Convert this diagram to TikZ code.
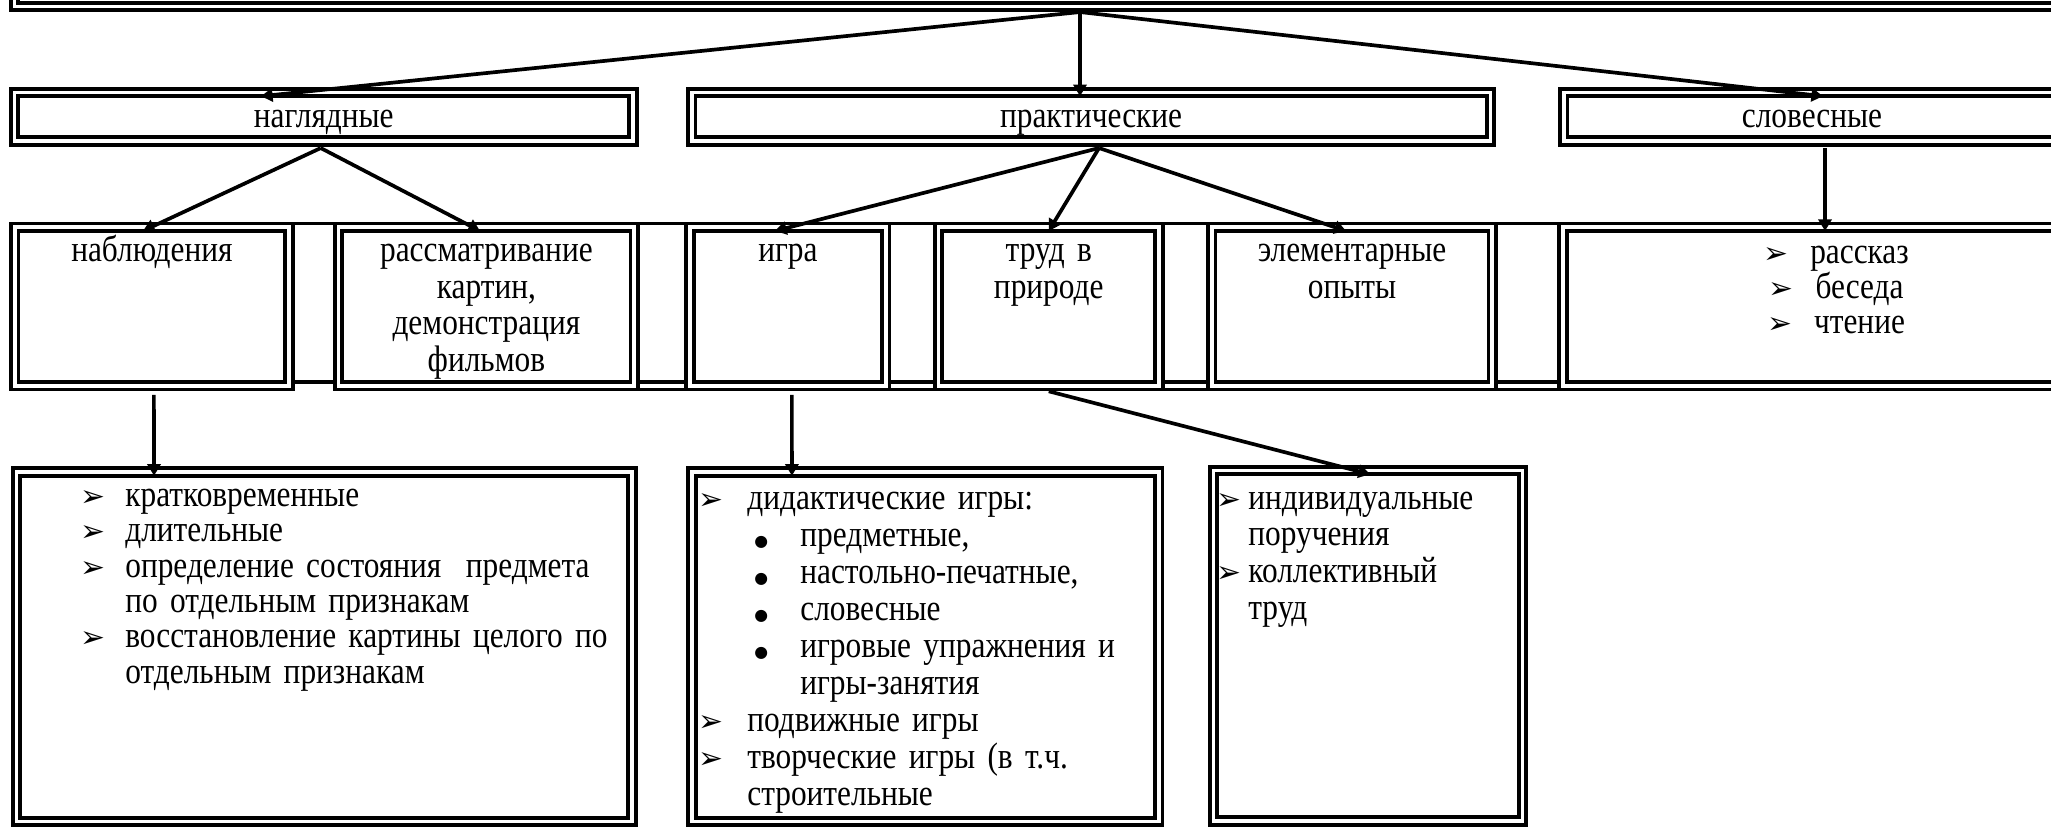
\documentclass[tikz,border=0pt]{standalone}
\usepackage{fontspec}
\setmainfont{Liberation Serif}[FakeStretch=0.85]
\newfontfamily\dejavu{DejaVu Sans}
\usetikzlibrary{arrows.meta,fit}

\newcommand{\arrb}{{\dejavu\fontsize{17pt}{17pt}\selectfont ➢}}
\newcommand{\dotb}{{\dejavu\fontsize{9pt}{9pt}\selectfont ●}}
\newcommand{\txtfont}[1]{\fontsize{21pt}{#1}\selectfont}

\tikzset{
  dbl/.style={draw, line width=2.1pt, double, double distance=2.1pt, inner sep=0pt, outer sep=0pt},
  frm/.style={line width=2.1pt, line cap=rect},
  arr/.style={line width=2.1pt, -{Triangle[length=6.6pt,width=7.5pt]}},
  lbl/.style={inner sep=0pt, anchor=base, align=center, text width=#1},
  lst/.style={inner sep=0pt, anchor=base west, align=left, text width=#1},
}

\begin{document}
\begin{tikzpicture}[x=0.02cm, y=-0.02cm, font=\txtfont{20.8pt}]
\useasboundingbox (0,0) rectangle (2051,826);

% Frame lines of the middle row
\draw[frm] (11,223.55) -- (2070,223.55);
\draw[frm] (334.8,389.45) -- (2070,389.45);
\foreach \a/\b in {292.7/334.8, 637.95/686.3, 889.45/934.8, 1162.7/1208.05, 1495.95/1559.3}
  \draw[frm] (\a,381.9) -- (\b,381.9);

% Boxes
\node[dbl, fit={(14.5,-120) (2145.5,6.5)}] (top) {};
\node[dbl, fit={(14.5,92.5) (633,141)}] (nag) {};
\node[dbl, fit={(691.7,92.5) (1490.5,141)}] (prak) {};
\node[dbl, fit={(1563.7,92.5) (2060,141)}] (slov) {};

\node[dbl, fit={(14.75,227.25) (289,385.75)}] (nab) {};
\node[dbl, fit={(338.5,227.25) (634.25,385.75)}] (ras) {};
\node[dbl, fit={(690,227.25) (885.75,385.75)}] (igra) {};
\node[dbl, fit={(938.5,227.25) (1159,385.75)}] (trud) {};
\node[dbl, fit={(1211.75,227.25) (1492.25,385.75)}] (elem) {};
\node[dbl, fit={(1563,227.25) (2060,385.75)}] (slovl) {};

\node[dbl, fit={(16.5,472) (632,821.5)}] (nabl) {};
\node[dbl, fit={(692,472) (1158.75,821.5)}] (igral) {};
\node[dbl, fit={(1213.5,470.5) (1522.5,821)}] (trudl) {};

% Labels
\node[lbl=8cm] (tnag) at (323.75,127) {наглядные};
\node[lbl=8cm] (tprak) at (1091.1,127) {практические};
\node[lbl=8cm] (tslov) at (1812,127) {словесные};

\node[lbl=5cm] (tnab) at (151.9,261.5) {наблюдения};
\node[lbl=5.6cm] (tras) at (486.4,261.5) {рассматривание\\картин,\\демонстрация\\фильмов};
\node[lbl=3.6cm] (tigra) at (787.9,261.5) {игра};
\node[lbl=4cm] (ttrud) at (1048.75,261.5) {труд в\\природе};
\node[lbl=5cm] (telem) at (1352,261.5) {элементарные\\опыты};
\node[lbl=6cm, font=\txtfont{19.8pt}] (tslovl) at (1836,263.5)
  {\makebox[0.94cm][l]{\arrb}рассказ\\\makebox[0.94cm][l]{\arrb}беседа\\\makebox[0.94cm][l]{\arrb}чтение};

% Lists
\node[lst=12cm, font=\txtfont{20.07pt}] (tnabl) at (80,506.7) {%
  \makebox[0.9cm][l]{\arrb}кратковременные\\
  \makebox[0.9cm][l]{\arrb}длительные\\
  \makebox[0.9cm][l]{\arrb}определение состояния\ \ предмета\\
  \hspace*{0.9cm}по отдельным признакам\\
  \makebox[0.9cm][l]{\arrb}восстановление картины целого по\\
  \hspace*{0.9cm}отдельным признакам};
\node[lst=10cm, font=\txtfont{21.1pt}] (tigral) at (698,509) {%
  \makebox[0.98cm][l]{\arrb}дидактические игры:\\
  \hspace*{1.12cm}\makebox[0.92cm][l]{\dotb}предметные,\\
  \hspace*{1.12cm}\makebox[0.92cm][l]{\dotb}настольно-печатные,\\
  \hspace*{1.12cm}\makebox[0.92cm][l]{\dotb}словесные\\
  \hspace*{1.12cm}\makebox[0.92cm][l]{\dotb}игровые упражнения и\\
  \hspace*{2.04cm}игры-занятия\\
  \makebox[0.98cm][l]{\arrb}подвижные игры\\
  \makebox[0.98cm][l]{\arrb}творческие игры (в т.ч.\\
  \hspace*{0.98cm}строительные};
\node[lst=8cm, font=\txtfont{21pt}] (ttrudl) at (1216,509) {%
  \makebox[0.64cm][l]{\arrb}индивидуальные\\
  \hspace*{0.64cm}поручения\\
  \makebox[0.64cm][l]{\arrb}коллективный\\
  \hspace*{0.64cm}труд};

% Arrows
\draw[arr] ([yshift=-3.15pt]top.south) -- ([xshift=-1.255cm,yshift=-2.1pt]nag.north);
\draw[arr] ([yshift=-3.15pt]top.south) -- ([xshift=-0.222cm,yshift=-2.1pt]prak.north);
\draw[arr] ([yshift=-3.15pt]top.south) -- ([xshift=0.223cm,yshift=-2.1pt]slov.north);
\draw[arr] ([xshift=-0.06cm,yshift=-4pt]nag.south) -- ([xshift=-0.178cm,yshift=-2.1pt]nab.north);
\draw[arr] ([xshift=-0.06cm,yshift=-4pt]nag.south) -- ([xshift=-0.128cm,yshift=-2.1pt]ras.north);
\draw[arr] ([xshift=0.158cm,yshift=-4pt]prak.south) -- ([xshift=-0.258cm,yshift=-2.1pt]igra.north);
\draw[arr] ([xshift=0.158cm,yshift=-4pt]prak.south) -- ([yshift=-2.1pt]trud.north);
\draw[arr] ([xshift=0.158cm,yshift=-4pt]prak.south) -- ([xshift=-0.12cm,yshift=-2.1pt]elem.north);
\draw[arr] ([xshift=0.263cm,yshift=-4pt]slov.south) -- ([xshift=0.27cm,yshift=-2.1pt]slovl.north);
\draw[arr] ([xshift=0.04cm,yshift=-5.2pt]nab.south) -- ([xshift=-3.405cm,yshift=-2.1pt]nabl.north);
\draw[arr] ([xshift=0.08cm,yshift=-5.2pt]igra.south) -- ([xshift=-2.67cm,yshift=-2.1pt]igral.north);
\draw[arr] ([yshift=-3.15pt]trud.south) -- ([xshift=0.04cm,yshift=-2.1pt]trudl.north);
\end{tikzpicture}
\end{document}
